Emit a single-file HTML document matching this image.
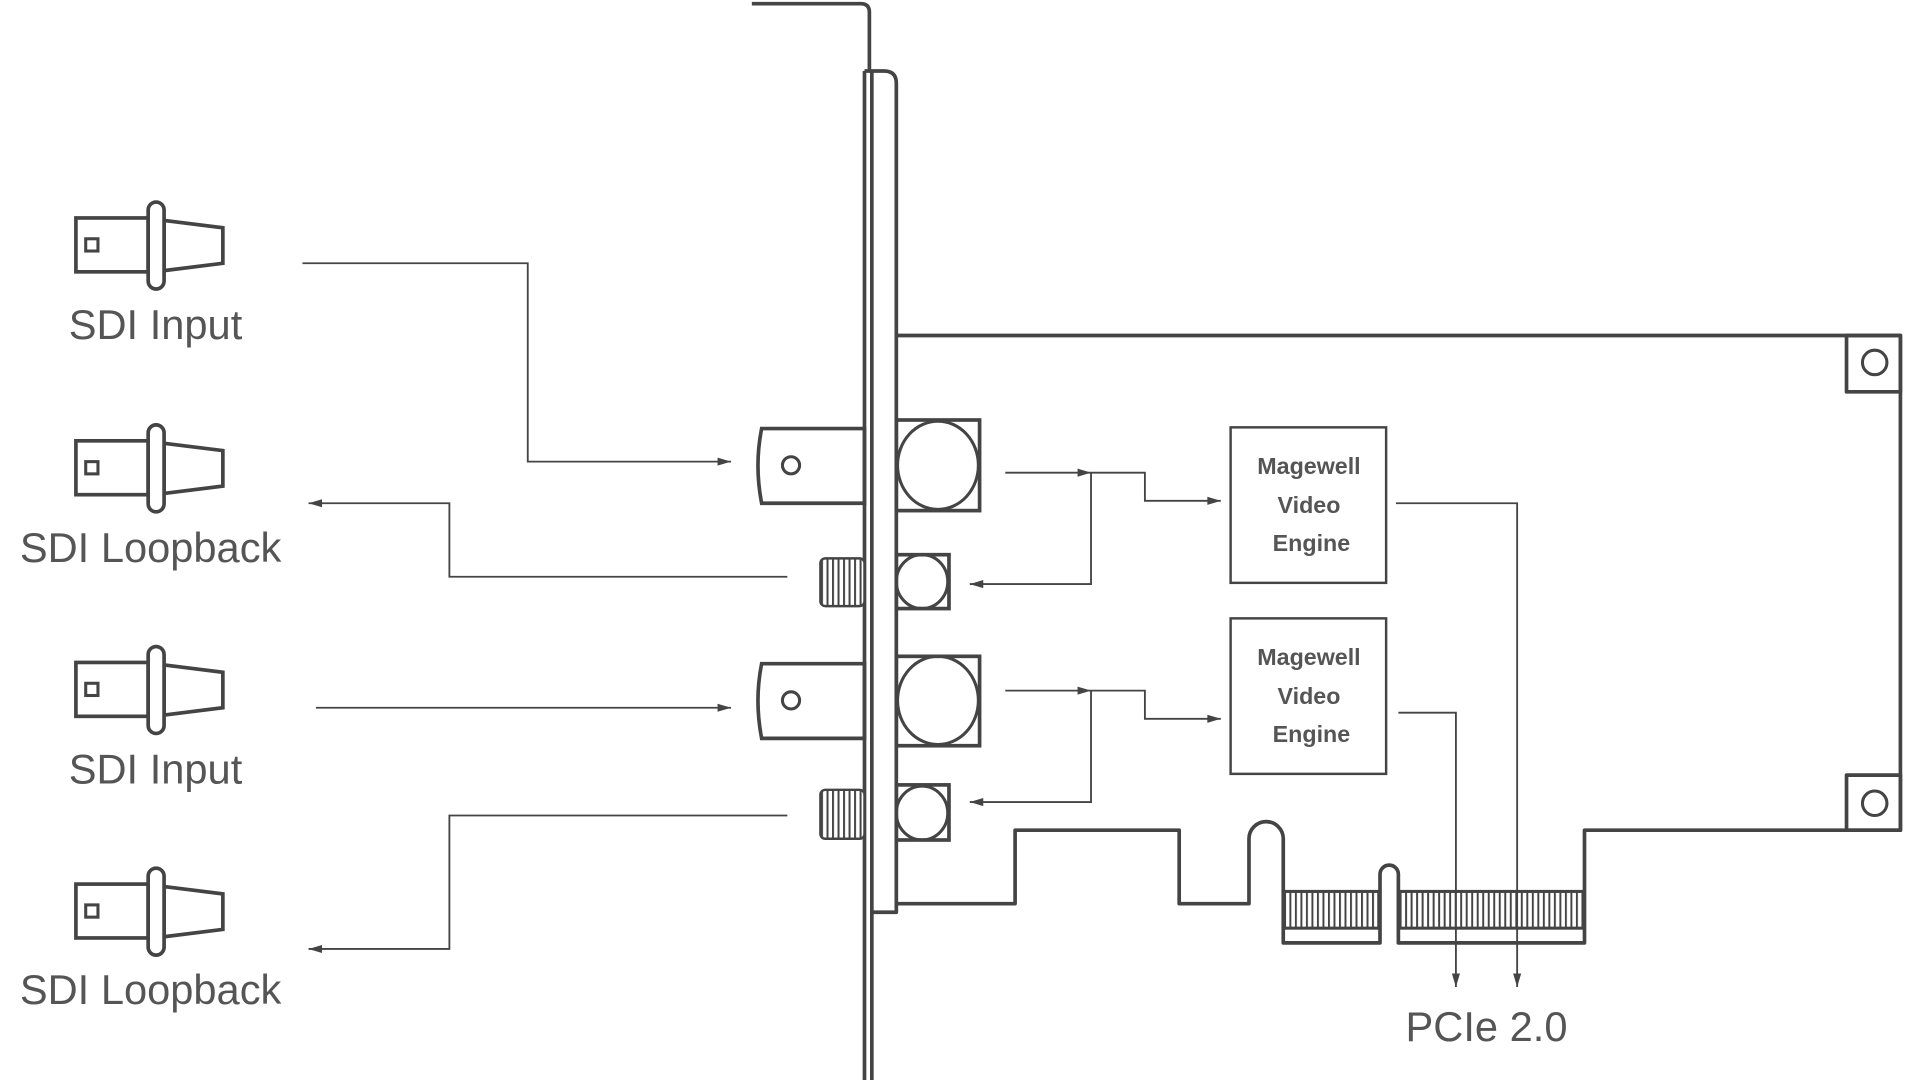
<!DOCTYPE html>
<html><head><meta charset="utf-8"><style>html,body{margin:0;padding:0;background:#fff}svg{display:block}</style></head>
<body>
<svg width="1920" height="1080" viewBox="0 0 1568 882" xmlns="http://www.w3.org/2000/svg">
<defs>
<marker id="a" viewBox="0 0 10 10" refX="10" refY="5" markerWidth="16" markerHeight="11" markerUnits="userSpaceOnUse" orient="auto"><path d="M0,2 L10,5 L0,8 z" fill="#444"/></marker>
<g id="conn">
<rect x="62" y="178" width="59" height="44" fill="#fff" stroke="#444" stroke-width="3"/>
<rect x="70" y="195" width="10" height="10" fill="none" stroke="#444" stroke-width="2.5"/>
<polygon points="134,180 182,186 182,215 134,221" fill="#fff" stroke="#444" stroke-width="3"/>
<rect x="121" y="165" width="13" height="71" rx="6.5" fill="#fff" stroke="#444" stroke-width="3"/>
</g>
<pattern id="stripes" width="4.5" height="10" patternUnits="userSpaceOnUse"><rect width="4.5" height="10" fill="#fff"/><rect x="0" width="1.6" height="10" fill="#444"/></pattern>
</defs>
<g fill="none" stroke="#444" stroke-linejoin="round">
<path d="M614,3 H703 Q710,3 710,10 V58" stroke-width="3"/>
<line x1="706" y1="58" x2="706" y2="882" stroke-width="3"/>
<line x1="712" y1="58" x2="712" y2="882" stroke-width="3"/>
<path d="M712,745 H732 V68 Q732,58 722,58 H706" stroke-width="3"/>
<path d="M732,274 H1552 V678 H1294 V770 H1142 V714 A7.5,7.5 0 0 0 1127,714 V770 H1048 V685 A14,14 0 0 0 1020,685 V738 H963 V678 H829 V738 H732" stroke-width="3"/>
<rect x="1508" y="274" width="44" height="46" stroke-width="3"/>
<circle cx="1531" cy="296" r="10" stroke-width="2.5"/>
<rect x="1508" y="633" width="44" height="45" stroke-width="3"/>
<circle cx="1531" cy="656" r="10" stroke-width="2.5"/>
</g>
<rect x="1049" y="728" width="77" height="30" fill="url(#stripes)" stroke="#444" stroke-width="2.5"/>
<rect x="1143" y="728" width="150" height="30" fill="url(#stripes)" stroke="#444" stroke-width="2.5"/>
<g fill="none" stroke="#444">
<path d="M622,350 H706 V411 H622 Q616,380 622,350 z" stroke-width="3"/>
<circle cx="646" cy="380" r="7" stroke-width="2.5"/>
<path d="M622,542 H706 V603 H622 Q616,572 622,542 z" stroke-width="3"/>
<circle cx="646" cy="572" r="7" stroke-width="2.5"/>
<rect x="732" y="343" width="68" height="74" stroke-width="3"/>
<ellipse cx="766" cy="380" rx="33" ry="36" stroke-width="2.5"/>
<rect x="732" y="536" width="68" height="73" stroke-width="3"/>
<ellipse cx="766" cy="572" rx="33" ry="36" stroke-width="2.5"/>
<rect x="732" y="453" width="43" height="44" stroke-width="3"/>
<ellipse cx="753" cy="475" rx="21" ry="22" stroke-width="2.5"/>
<rect x="732" y="641" width="43" height="45" stroke-width="3"/>
<ellipse cx="753" cy="664" rx="21" ry="22" stroke-width="2.5"/>
</g>
<rect x="670" y="456" width="36" height="39" rx="4" fill="url(#stripes)" stroke="#444" stroke-width="2"/>
<rect x="670" y="645" width="36" height="40" rx="4" fill="url(#stripes)" stroke="#444" stroke-width="2"/>
<rect x="1005" y="349" width="127" height="127" fill="none" stroke="#444" stroke-width="2"/>
<rect x="1005" y="505" width="127" height="127" fill="none" stroke="#444" stroke-width="2"/>
<g font-family="Liberation Sans, sans-serif" font-size="19" font-weight="bold" fill="#555" text-anchor="middle">
<text x="1069" y="387">Magewell</text><text x="1069" y="419">Video</text><text x="1071" y="450">Engine</text>
<text x="1069" y="543">Magewell</text><text x="1069" y="575">Video</text><text x="1071" y="606">Engine</text>
</g>
<g fill="none" stroke="#444" stroke-width="1.5">
<path d="M247,215 H431 V377 H597" marker-end="url(#a)"/>
<path d="M643,471 H367 V411 H252" marker-end="url(#a)"/>
<path d="M258,578 H597" marker-end="url(#a)"/>
<path d="M643,666 H367 V775 H252" marker-end="url(#a)"/>
<path d="M821,386 H891" marker-end="url(#a)"/>
<path d="M891,386 H935 V409 H997" marker-end="url(#a)"/>
<path d="M891,386 V477 H792" marker-end="url(#a)"/>
<path d="M821,564 H891" marker-end="url(#a)"/>
<path d="M891,564 H935 V587 H997" marker-end="url(#a)"/>
<path d="M891,564 V655 H792" marker-end="url(#a)"/>
<path d="M1140,411 H1239 V806" marker-end="url(#a)"/>
<path d="M1142,582 H1189 V806" marker-end="url(#a)"/>
</g>
<use href="#conn"/>
<use href="#conn" y="182"/>
<use href="#conn" y="363"/>
<use href="#conn" y="544"/>
<g font-family="Liberation Sans, sans-serif" font-size="34" fill="#555" text-anchor="middle">
<text x="127" y="277">SDI Input</text>
<text x="123" y="459">SDI Loopback</text>
<text x="127" y="640">SDI Input</text>
<text x="123" y="820">SDI Loopback</text>
<text x="1214" y="850">PCIe 2.0</text>
</g>
</svg>
</body></html>
